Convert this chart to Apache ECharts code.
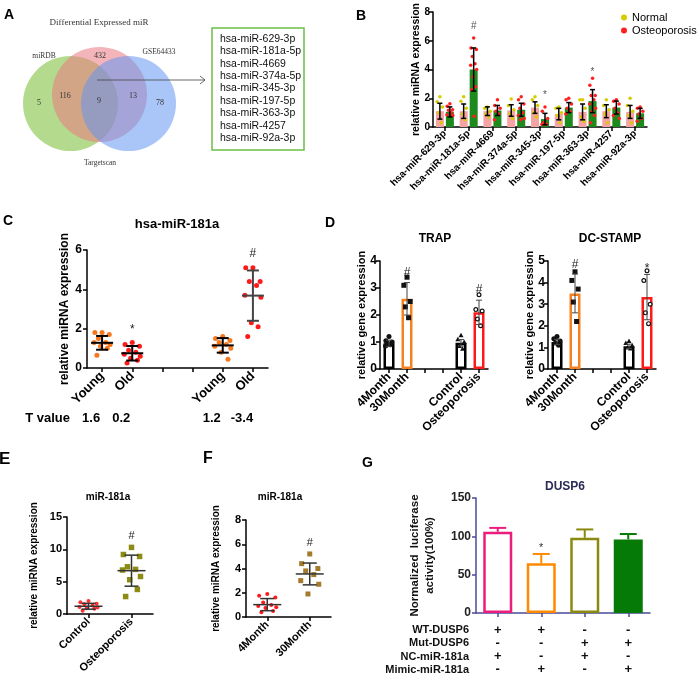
<!DOCTYPE html>
<html>
<head>
<meta charset="utf-8">
<script src="https://cdn.jsdelivr.net/npm/echarts@6/dist/echarts.min.js"></script>
<style>
  html, body { margin: 0; padding: 0; background: #fff; }
  #chart { width: 699px; height: 676px; }
</style>
</head>
<body>
<div id="chart"></div>
<script>
// ---------- data ----------
var mirList = ['hsa-miR-629-3p', 'hsa-miR-181a-5p', 'hsa-miR-4669', 'hsa-miR-374a-5p', 'hsa-miR-345-3p',
  'hsa-miR-197-5p', 'hsa-miR-363-3p', 'hsa-miR-4257', 'hsa-miR-92a-3p'];
var vennSets = ['miRDB', 'GSE64433', 'Targetscan'];
var vennCounts = [5, 116, 9, 13, 78, 432];

// B
var bNormalMean = [1.1, 1.1, 1.1, 1.15, 1.35, 0.9, 1.05, 1.1, 1.05];
var bNormalSd = [0.55, 0.5, 0.3, 0.4, 0.4, 0.4, 0.55, 0.45, 0.45];
var bOsteoMean = [1.05, 4.0, 1.15, 1.2, 0.55, 1.35, 1.8, 1.35, 0.95];
var bOsteoSd = [0.35, 1.5, 0.35, 0.45, 0.4, 0.35, 0.8, 0.45, 0.35];
var bNormalPts = [[2.1, 1.75, 1.4, 1.0, 0.3], [2.1, 1.8, 1.3, 0.9, 0.5], [1.4, 1.3, 1.1, 0.9, 0.7],
  [1.95, 1.5, 1.2, 0.9, 0.6], [2.1, 1.9, 1.5, 1.0, 0.7], [1.4, 1.3, 1.0, 0.8, 0.3],
  [1.9, 1.9, 1.3, 0.7, 0.4], [1.9, 1.5, 1.2, 0.9, 0.3], [2.0, 1.5, 1.1, 0.8, 0.3]];
var bOsteoPts = [[1.62, 1.45, 1.2, 1.16, 1.0, 0.85, 0.8], [6.2, 5.5, 5.4, 4.9, 4.4, 4.3, 4.0, 3.5, 2.8, 2.6, 0.75],
  [1.9, 1.5, 1.3, 1.1, 0.9, 0.5], [2.1, 1.9, 1.6, 1.3, 1.0, 0.8, 0.6, 0.5], [1.4, 1.1, 0.6, 0.3, 0.2, 0.2],
  [2.0, 1.9, 1.6, 1.3, 1.1, 0.9], [3.4, 2.9, 2.2, 2.2, 1.9, 1.6, 1.3, 1.1, 0.8, 0.3],
  [1.9, 1.8, 1.6, 1.3, 1.0, 0.8, 0.6], [1.4, 1.3, 1.1, 0.9, 0.6, 0.4]];
var bSigCat = [1, 4, 6];
var bSigY = [7.0, 2.2, 3.8];
var bSigText = ['#', '*', '*'];

// C
var cCats = ['Young', 'Old', '', '', 'Young', 'Old'];
var cTValues = ['1.6', '0.2', '', '', '1.2', '-3.4'];
var cMean = [1.28, 0.75, null, null, 1.15, 3.68];
var cSd = [0.35, 0.37, null, null, 0.37, 1.28];
var cPts = [[1.8, 1.8, 1.7, 1.5, 1.3, 1.3, 1.2, 1.1, 1.0, 0.65], [1.3, 1.2, 1.1, 0.9, 0.8, 0.7, 0.6, 0.5, 0.4, 0.25],
  [], [], [1.6, 1.5, 1.4, 1.3, 1.2, 1.1, 1.0, 0.8, 0.45], [5.1, 5.1, 4.4, 4.4, 4.2, 3.7, 3.6, 2.3, 2.1, 1.6]];
var cSigCat = [1, 5];
var cSigY = [1.95, 5.8];
var cSigText = ['*', '#'];

// D
var dCats = ['4Month', '30Month', '', '', 'Control', 'Osteoporosis'];
var trapMean = [0.95, 2.6, '-', '-', 0.97, 2.1];
var trapSd = [0.12, 0.6, null, null, 0.12, 0.45];
var trapPts = [[1.2, 1.05, 1.0, 0.95, 0.9, 0.85], [3.4, 3.1, 2.5, 2.3, 1.9], [], [], [1.25, 1.1, 1.0, 0.85, 0.75], [2.75, 2.2, 2.15, 1.85, 1.6]];
var trapSigCat = [1, 5];
var trapSigY = [3.55, 2.95];
var trapSigText = ['#', '#'];
var dcMean = [1.25, 3.5, '-', '-', 1.05, 3.33];
var dcSd = [0.12, 0.9, null, null, 0.1, 1.05];
var dcPts = [[1.5, 1.4, 1.3, 1.2, 1.1], [4.5, 4.1, 3.7, 3.1, 2.2], [], [], [1.3, 1.2, 1.1, 1.0, 0.95], [4.55, 4.1, 3.0, 2.6, 2.1]];
var dcSigCat = [1, 5];
var dcSigY = [4.85, 4.65];
var dcSigText = ['#', '*'];

// E
var eCats = ['Control', 'Osteoporosis'];
var eMean = [1.2, 6.7];
var eSd = [0.45, 2.4];
var ePts = [[2.0, 1.8, 1.6, 1.5, 1.3, 1.1, 1.0, 0.9, 0.8, 0.5], [10.3, 9.2, 8.9, 7.3, 6.9, 6.8, 5.8, 5.3, 3.8, 2.7]];
var eSigText = ['', '#'];
var eSigY = [0, 12];

// F
var fCats = ['4Month', '30Month'];
var fMean = [1.02, 3.55];
var fSd = [0.5, 0.9];
var fPts = [[1.9, 1.75, 1.6, 1.2, 1.0, 0.9, 0.8, 0.75, 0.5, 0.4], [5.2, 4.4, 4.0, 3.8, 3.5, 3.0, 2.7, 1.9]];
var fSigText = ['', '#'];
var fSigY = [0, 6.1];

// G
var gCats = ['WT+NC', 'WT+Mimic', 'Mut+NC', 'Mut+Mimic'];
var gMean = [106, 65, 98, 96];
var gSd = [5, 12, 11, 7];
var gSigText = ['', '*', '', ''];
var gSigY = [0, 85, 0, 0];
var gRowNames = ['WT-DUSP6', 'Mut-DUSP6', 'NC-miR-181a', 'Mimic-miR-181a'];
var gRows = [['+', '+', '-', '-'], ['-', '-', '+', '+'], ['+', '-', '+', '-'], ['-', '+', '-', '+']];

// ---------- helpers ----------
var FONT = 'Liberation Sans, Arial, sans-serif';
var jit = [0, -0.9, 0.9, -0.45, 0.45, -1, 1, -0.2, 0.65, -0.65, 0.2, -0.35];

function pick(v, c) { return Array.isArray(v) ? v[c] : v; }

function whisker(xi, yi, mean, sd, o) {
  var data = [];
  mean.forEach(function (m, c) { if (typeof m === 'number' && sd[c] != null) data.push([c, m, sd[c]]); });
  return {
    type: 'custom', xAxisIndex: xi, yAxisIndex: yi, data: data, silent: true, z: o.z || 6,
    encode: { x: 0, y: 1 },
    renderItem: function (p, api) {
      var c = api.value(0), m = api.value(1), s = api.value(2);
      var x = api.coord([c, m])[0] + (o.dx || 0);
      var yMid = api.coord([c, m])[1], yTop = api.coord([c, m + s])[1], yBot = api.coord([c, m - s])[1];
      var st = { stroke: pick(o.color, c) || '#000', lineWidth: o.lw || 1.5 };
      var ch = [
        { type: 'line', shape: { x1: x, y1: o.upOnly ? yMid : yBot, x2: x, y2: yTop }, style: st },
        { type: 'line', shape: { x1: x - o.cap, y1: yTop, x2: x + o.cap, y2: yTop }, style: st }
      ];
      if (!o.upOnly) ch.push({ type: 'line', shape: { x1: x - o.cap, y1: yBot, x2: x + o.cap, y2: yBot }, style: st });
      if (o.mean) ch.push({ type: 'line', shape: { x1: x - o.mean, y1: yMid, x2: x + o.mean, y2: yMid }, style: st });
      return { type: 'group', children: ch };
    }
  };
}

function dots(xi, yi, pts, o) {
  var data = [];
  pts.forEach(function (g, c) { (g || []).forEach(function (v, k) { data.push([c, v, k]); }); });
  return {
    type: 'custom', xAxisIndex: xi, yAxisIndex: yi, data: data, silent: true, z: o.z || 5,
    encode: { x: 0, y: 1 },
    renderItem: function (p, api) {
      var c = api.value(0), pt = api.coord([c, api.value(1)]);
      var x = pt[0] + (o.dx || 0) + jit[api.value(2) % jit.length] * o.spread, y = pt[1];
      var sym = pick(o.symbol, c) || 'circle', col = pick(o.color, c), r = pick(o.size, c) / 2;
      if (sym === 'square') return { type: 'rect', shape: { x: x - r, y: y - r, width: 2 * r, height: 2 * r }, style: { fill: col } };
      if (sym === 'triangle') return { type: 'polygon', shape: { points: [[x, y - r], [x + r, y + r * 0.8], [x - r, y + r * 0.8]] }, style: { fill: col } };
      if (sym === 'ring') return { type: 'circle', shape: { cx: x, cy: y, r: r - 0.6 }, style: { fill: '#fff', stroke: col, lineWidth: 1.2 } };
      return { type: 'circle', shape: { cx: x, cy: y, r: r }, style: { fill: col } };
    }
  };
}

function sig(xi, yi, cats, ys, texts, o) {
  var data = cats.map(function (c, i) { return [c, ys[i]]; });
  return {
    type: 'custom', xAxisIndex: xi, yAxisIndex: yi, data: data, silent: true, z: 7,
    encode: { x: 0, y: 1 },
    renderItem: function (p, api) {
      var pt = api.coord([api.value(0), api.value(1)]);
      return {
        type: 'text', x: pt[0] + (o.dx || 0), y: pt[1],
        style: { text: texts[p.dataIndex], fill: o.color || '#222', font: (o.weight || 'normal') + ' ' + o.size + 'px ' + FONT, align: 'center', verticalAlign: 'middle' }
      };
    }
  };
}

function catAxis(gi, data, o) {
  return {
    type: 'category', gridIndex: gi, data: data, boundaryGap: true,
    axisLine: { lineStyle: { color: o.lineColor || '#000', width: 1.5 } },
    axisTick: { show: o.tick !== false, alignWithLabel: true, interval: 0, length: 4, lineStyle: { width: 1.5, color: o.lineColor || '#000' } },
    axisLabel: { show: o.label !== false, interval: 0, rotate: o.rotate || 0, margin: o.margin || 6, color: '#000', fontWeight: 'bold', fontSize: o.fontSize || 11, fontFamily: FONT }
  };
}

function valAxis(gi, max, step, o) {
  return {
    type: 'value', gridIndex: gi, min: 0, max: max, interval: step, splitLine: { show: false },
    name: o.name, nameLocation: 'middle', nameGap: o.nameGap, nameRotate: 90, nameMoveOverlap: false,
    nameTextStyle: { color: o.nameColor || '#000', fontWeight: 'bold', fontSize: o.nameSize || 11, fontFamily: FONT, lineHeight: (o.nameSize || 11) + 3 },
    axisLine: { show: true, lineStyle: { color: o.lineColor || '#000', width: 1.5 } },
    axisTick: { show: true, length: 4, lineStyle: { width: 1.5, color: o.lineColor || '#000' } },
    axisLabel: { color: o.labelColor || '#000', fontWeight: 'bold', fontSize: o.fontSize || 11, fontFamily: FONT, margin: o.margin || 5 }
  };
}

// ---------- axes ----------
var xAxes = [
  catAxis(0, mirList, { rotate: 45, fontSize: 10, margin: 5 }),
  catAxis(1, cCats, { rotate: 45, fontSize: 13, margin: 6 }),
  { type: 'category', gridIndex: 1, data: cTValues, position: 'bottom', offset: 50,
    axisLine: { show: false }, axisTick: { show: false },
    axisLabel: { interval: 0, margin: 0, verticalAlign: 'middle', padding: [0, 22, 0, 0], color: '#000', fontWeight: 'bold', fontSize: 13, fontFamily: FONT },
    name: 'T value', nameLocation: 'start', nameGap: 17,
    nameTextStyle: { color: '#000', fontWeight: 'bold', fontSize: 13, fontFamily: FONT, verticalAlign: 'middle', align: 'right' } },
  catAxis(2, dCats, { rotate: 45, fontSize: 12 }),
  catAxis(3, dCats, { rotate: 45, fontSize: 12 }),
  catAxis(4, eCats, { rotate: 45, fontSize: 11 }),
  catAxis(5, fCats, { rotate: 45, fontSize: 11 }),
  catAxis(6, gCats, { label: false, lineColor: '#4b4b9b' })
];
gRows.forEach(function (row, r) {
  xAxes.push({
    type: 'category', gridIndex: 6, data: row, position: 'bottom', offset: 17 + r * 13.3,
    axisLine: { show: false }, axisTick: { show: false },
    axisLabel: { interval: 0, margin: 0, verticalAlign: 'middle', color: '#111', fontWeight: 'bold', fontSize: 13, fontFamily: FONT },
    name: gRowNames[r], nameLocation: 'start', nameGap: 7,
    nameTextStyle: { color: '#111', fontWeight: 'bold', fontSize: 11, fontFamily: FONT, verticalAlign: 'middle', align: 'right' }
  });
});

var yAxes = [
  valAxis(0, 8, 2, { name: 'relative miRNA expression', nameGap: 10, nameSize: 10.5, fontSize: 10, margin: 3 }),
  valAxis(1, 6, 2, { name: 'relative miRNA expression', nameGap: 15, nameSize: 12, fontSize: 12 }),
  valAxis(2, 4, 1, { name: 'relative gene expression', nameGap: 11, nameSize: 11, fontSize: 12, margin: 3 }),
  valAxis(3, 5, 1, { name: 'relative gene expression', nameGap: 11, nameSize: 11, fontSize: 12, margin: 3 }),
  valAxis(4, 15, 5, { name: 'relative miRNA expression', nameGap: 26, nameSize: 10, fontSize: 11 }),
  valAxis(5, 8, 2, { name: 'relative miRNA expression', nameGap: 23, nameSize: 10, fontSize: 11 }),
  valAxis(6, 150, 50, { name: 'Normalized  luciferase\nactivity(100%)', nameGap: 39, nameSize: 11.5, fontSize: 12,
    lineColor: '#4b4b9b', labelColor: '#222', nameColor: '#111' })
];

var grids = [
  { left: 433, top: 12, width: 214, height: 115 },
  { left: 87, top: 250, width: 181, height: 118 },
  { left: 380, top: 261, width: 108, height: 108 },
  { left: 548, top: 261, width: 108, height: 108 },
  { left: 67, top: 517, width: 86, height: 97 },
  { left: 246, top: 520, width: 85, height: 97 },
  { left: 476, top: 498, width: 174, height: 115 }
].map(function (g) { g.outerBoundsMode = 'none'; g.containLabel = false; return g; });

// ---------- series ----------
var dColors = ['#000', '#f5821f', null, null, '#000', '#ff1a1a'];
var dSymbols = ['circle', 'square', null, null, 'triangle', 'ring'];
function dBars(mean) {
  return mean.map(function (v, c) {
    return { value: v, itemStyle: { color: '#fff', borderColor: dColors[c] || '#000', borderWidth: 2.5 } };
  });
}
var gBorder = ['#ec1c7c', '#ff8a00', '#8a8a10', '#067a06'];

var series = [
  // B
  { type: 'bar', name: 'Normal', xAxisIndex: 0, yAxisIndex: 0, data: bNormalMean, barWidth: 8, barGap: '25%', itemStyle: { color: '#f6a3a3' }, silent: true },
  { type: 'bar', name: 'Osteoporosis', xAxisIndex: 0, yAxisIndex: 0, data: bOsteoMean, barWidth: 8, barGap: '25%', itemStyle: { color: '#1c8a1c' }, silent: true },
  dots(0, 0, bNormalPts, { dx: -5, spread: 3, color: '#d6cc00', size: 3.5 }),
  dots(0, 0, bOsteoPts, { dx: 5, spread: 3, color: '#ff1f1f', size: 3.5 }),
  whisker(0, 0, bNormalMean, bNormalSd, { dx: -5, cap: 2.5, lw: 1.5 }),
  whisker(0, 0, bOsteoMean, bOsteoSd, { dx: 5, cap: 2.5, lw: 1.5 }),
  sig(0, 0, bSigCat, bSigY, bSigText, { dx: 5, size: 10, color: '#555' }),
  // C
  dots(1, 1, cPts, { spread: 8, color: ['#f5781e', '#ff1a1a', null, null, '#f5781e', '#ff1a1a'], size: 5 }),
  whisker(1, 1, cMean, cSd, { cap: 6, mean: 11, lw: 2, color: ['#000', '#000', null, null, '#000', '#444'] }),
  sig(1, 1, cSigCat, cSigY, cSigText, { size: 12, color: '#222' }),
  // D TRAP
  { type: 'bar', xAxisIndex: 3, yAxisIndex: 2, data: dBars(trapMean), barWidth: 11, silent: true, z: 2 },
  dots(3, 2, trapPts, { spread: 3.5, color: '#111', symbol: dSymbols, size: 5 }),
  whisker(3, 2, trapMean, trapSd, { cap: 3, lw: 1, color: '#444' }),
  sig(3, 2, trapSigCat, trapSigY, trapSigText, { size: 12 }),
  // D DC-STAMP
  { type: 'bar', xAxisIndex: 4, yAxisIndex: 3, data: dBars(dcMean), barWidth: 11, silent: true, z: 2 },
  dots(4, 3, dcPts, { spread: 3.5, color: '#111', symbol: dSymbols, size: 5 }),
  whisker(4, 3, dcMean, dcSd, { cap: 3, lw: 1, color: '#444' }),
  sig(4, 3, dcSigCat, dcSigY, dcSigText, { size: 12 }),
  // E
  dots(5, 4, ePts, { spread: 9, color: ['#ff3030', '#8c8c14'], symbol: ['circle', 'square'], size: [4, 5.5] }),
  whisker(5, 4, eMean, eSd, { cap: 7, mean: 14, lw: 1.5, color: '#333' }),
  sig(5, 4, [0, 1], eSigY, eSigText, { size: 11 }),
  // F
  dots(6, 5, fPts, { spread: 9, color: ['#ff1a1a', '#a47a2c'], symbol: ['circle', 'square'], size: [4, 5] }),
  whisker(6, 5, fMean, fSd, { cap: 7, mean: 14, lw: 1.5, color: '#333' }),
  sig(6, 5, [0, 1], fSigY, fSigText, { size: 11 }),
  // G
  { type: 'bar', xAxisIndex: 7, yAxisIndex: 6, barWidth: 29, silent: true, z: 2,
    data: gMean.map(function (v, c) {
      return { value: v, itemStyle: { color: c === 3 ? '#067a06' : '#fff', borderColor: gBorder[c], borderWidth: 2.5 } };
    }) },
  whisker(7, 6, gMean, gSd, { cap: 8.5, lw: 2, upOnly: true, color: gBorder, z: 1 }),
  sig(7, 6, [0, 1, 2, 3], gSigY, gSigText, { size: 11, color: '#333' })
];

// ---------- panel A (Venn) ----------
var serif = 'Liberation Serif, DejaVu Serif, serif';
var vennPos = [[39, 103], [65, 96], [99, 101], [133, 96], [160, 103], [100, 56]];
var graphics = [
  { type: 'circle', shape: { cx: 70.5, cy: 103.5, r: 47.5 }, style: { fill: 'rgba(140,200,80,0.65)' } },
  { type: 'circle', shape: { cx: 99.5, cy: 94.5, r: 47.5 }, style: { fill: 'rgba(235,120,130,0.55)' } },
  { type: 'circle', shape: { cx: 128.5, cy: 103.5, r: 47.5 }, style: { fill: 'rgba(100,150,240,0.55)' } },
  { type: 'text', x: 99, y: 23, style: { text: 'Differential Expressed miR', font: '9px ' + serif, fill: '#333', align: 'center', verticalAlign: 'middle' } },
  { type: 'text', x: 44, y: 56, style: { text: vennSets[0], font: '7.5px ' + serif, fill: '#333', align: 'center', verticalAlign: 'middle' } },
  { type: 'text', x: 159, y: 52, style: { text: vennSets[1], font: '7.5px ' + serif, fill: '#333', align: 'center', verticalAlign: 'middle' } },
  { type: 'text', x: 100, y: 163, style: { text: vennSets[2], font: '7.5px ' + serif, fill: '#333', align: 'center', verticalAlign: 'middle' } },
  { type: 'line', shape: { x1: 97, y1: 80, x2: 205, y2: 80 }, style: { stroke: '#444', lineWidth: 0.8 } },
  { type: 'polyline', shape: { points: [[200, 76], [205, 80], [200, 84]] }, style: { stroke: '#444', lineWidth: 0.8, fill: null } },
  { type: 'rect', shape: { x: 212, y: 28, width: 92, height: 122 }, style: { fill: '#fff', stroke: '#6cbf45', lineWidth: 1.5 } }
];
vennCounts.forEach(function (n, i) {
  graphics.push({ type: 'text', x: vennPos[i][0], y: vennPos[i][1], style: { text: String(n), font: '8px ' + serif, fill: '#333', align: 'center', verticalAlign: 'middle' } });
});
mirList.forEach(function (m, i) {
  graphics.push({ type: 'text', x: 220, y: 39 + i * 12.4, style: { text: m, font: '10.5px ' + FONT, fill: '#111', align: 'left', verticalAlign: 'middle' } });
});
[['A', 4, 15, 14], ['B', 356, 16, 14], ['C', 3, 221, 14], ['D', 325, 223, 14], ['E', -1, 459, 17], ['F', 203, 459, 16], ['G', 362, 463, 14]]
  .forEach(function (l) {
    graphics.push({ type: 'text', x: l[1], y: l[2], style: { text: l[0], font: 'bold ' + l[3] + 'px ' + FONT, fill: '#000', align: 'left', verticalAlign: 'middle' } });
  });

function ttl(text, x, y, size, color) {
  return { text: text, left: x, top: y, textAlign: 'center', padding: 0,
    textStyle: { fontSize: size, fontWeight: 'bold', color: color || '#000', fontFamily: FONT } };
}

var chart = echarts.init(document.getElementById('chart'), null, { renderer: 'canvas' });
chart.setOption({
  animation: false,
  backgroundColor: '#fff',
  title: [
    ttl('hsa-miR-181a', 177, 218, 13),
    ttl('TRAP', 435, 233, 12),
    ttl('DC-STAMP', 610, 233, 12),
    ttl('miR-181a', 108, 492, 10),
    ttl('miR-181a', 280, 492, 10),
    ttl('DUSP6', 565, 481, 12, '#2b2b55')
  ],
  legend: {
    left: 616, top: 7, orient: 'vertical', itemWidth: 6, itemHeight: 6, itemGap: 2, icon: 'circle',
    textStyle: { fontSize: 11, color: '#000', fontFamily: FONT },
    data: [{ name: 'Normal', itemStyle: { color: '#d6cc00' } }, { name: 'Osteoporosis', itemStyle: { color: '#ff1f1f' } }],
    selectedMode: false
  },
  grid: grids,
  xAxis: xAxes,
  yAxis: yAxes,
  series: series,
  graphic: graphics
});
</script>
</body>
</html>
